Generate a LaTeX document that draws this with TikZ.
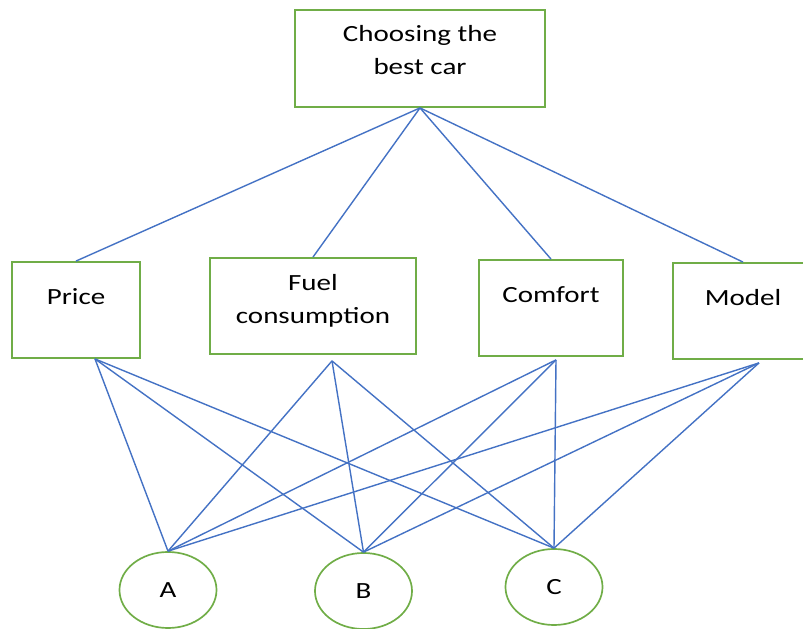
\documentclass[tikz,border=0pt]{standalone}
\usepackage{fontspec}
\setmainfont{Carlito}[FakeStretch=1.25]
\usetikzlibrary{shapes.geometric}
\definecolor{boxgreen}{HTML}{70AD47}
\definecolor{lineblue}{HTML}{4472C4}

\begin{document}
\begin{tikzpicture}[
    x=0.025cm, y=-0.025cm,
    box/.style={draw=boxgreen, line width=1.3pt, inner sep=0pt, align=center, minimum height=2.4cm},
    onerow/.style={text height=0.4cm, text depth=0.675cm},
    alt/.style={ellipse, draw=boxgreen, line width=1.2pt, inner sep=0pt, minimum width=2.425cm, minimum height=1.9cm},
    link/.style={draw=lineblue, line width=1pt},
    font=\fontsize{16.5pt}{23.5pt}\selectfont
]
    \useasboundingbox (0,0) rectangle (803,629);

    % goal node
    \node[box, text depth=0.43cm, minimum width=6.25cm, minimum height=2.425cm] (goal) at (420,58.5) {Choosing the\\best car};

    % criteria (4 boxes)
    \node[box, onerow, minimum width=3.2cm] (price) at (76,310) {Price};                       % left
    \node[box, text depth=0.33cm, minimum width=5.15cm] (fuel) at (313,306) {Fuel\\consumption}; % middle left
    \node[box, onerow, minimum width=3.6cm] (comfort) at (551,308) {Comfort};                 % middle right
    \node[box, onerow, minimum width=3.5cm] (model) at (743,311) {Model};                     % right

    % alternatives (3 ellipses)
    \node[alt] (A) at (168,590) {A};
    \node[alt] (B) at (363.5,591) {B};
    \node[alt] (C) at (554,587) {C};

    % points under the criteria where the links meet
    \coordinate (price-out) at ([shift={(19,0)}]price.south);
    \coordinate (fuel-out) at ([shift={(19,6)}]fuel.south);
    \coordinate (comfort-out) at ([shift={(5,3)}]comfort.south);
    \coordinate (model-out) at ([shift={(16,3)}]model.south);

    % 1. goal to every criterion
    \foreach \c in {price, fuel, comfort, model}
        \draw[link] (goal.south) -- (\c.north);

    % 2. every criterion to every alternative
    \foreach \c in {price, fuel, comfort, model}
        \foreach \a in {A, B, C}
            \draw[link] (\c-out) -- (\a.north);

\end{tikzpicture}
\end{document}
